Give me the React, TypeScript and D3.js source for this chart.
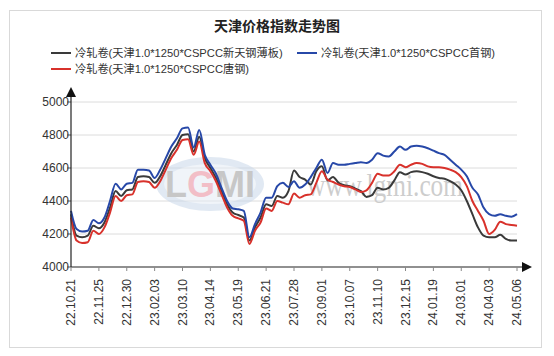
import React from "react";
import * as d3 from "d3";

const title = "天津价格指数走势图";
const seriesNames = [
  "冷轧卷(天津1.0*1250*CSPCC新天钢薄板)",
  "冷轧卷(天津1.0*1250*CSPCC首钢)",
  "冷轧卷(天津1.0*1250*CSPCC唐钢)",
];
const seriesColors = ["#3a3a3a", "#2748a8", "#d8312b"];
const tickLabels = [
  "22.10.21", "22.11.25", "22.12.30", "23.02.03", "23.03.10", "23.04.14",
  "23.05.19", "23.06.21", "23.07.28", "23.09.01", "23.10.07", "23.11.10",
  "23.12.15", "24.01.19", "24.03.01", "24.04.03", "24.05.06",
];
const yTicks = [4000, 4200, 4400, 4600, 4800, 5000];

const xintian = [
  4320, 4190, 4180, 4190, 4250, 4235, 4270, 4360, 4460, 4430,
  4465, 4470, 4545, 4550, 4545, 4510, 4550, 4620, 4690, 4740,
  4800, 4805, 4700, 4790, 4660, 4600, 4540, 4460, 4380, 4330,
  4315, 4300, 4160, 4240, 4300, 4380, 4370, 4430, 4420, 4460,
  4585, 4545, 4530, 4500, 4580, 4610, 4525, 4545, 4510, 4495,
  4490, 4475, 4460, 4425, 4435, 4480, 4470, 4480, 4525, 4575,
  4560, 4575, 4580, 4575, 4565, 4550, 4540, 4535, 4520, 4500,
  4465, 4400, 4320, 4240, 4190, 4180, 4180, 4195, 4170, 4160,
  4160,
];
const shougang = [
  4340, 4230, 4215, 4220, 4285, 4265, 4300, 4400, 4505, 4470,
  4505, 4510, 4590, 4590, 4585, 4540, 4590, 4660, 4730, 4780,
  4840, 4845, 4725, 4830, 4680, 4620, 4565, 4480, 4400, 4355,
  4350, 4340, 4180, 4260, 4330, 4420, 4420, 4490, 4510, 4485,
  4520, 4480, 4500, 4545, 4600, 4650, 4570, 4630, 4620, 4620,
  4625, 4630, 4635, 4630, 4650, 4690, 4675, 4670, 4700, 4730,
  4710, 4730, 4735, 4730, 4720, 4705, 4690, 4680, 4650, 4620,
  4590, 4550, 4480, 4440, 4360, 4320, 4310, 4320, 4310, 4305,
  4320,
];
const tanggang = [
  4300, 4160, 4145, 4150, 4220, 4200, 4240, 4330, 4430, 4400,
  4435, 4440, 4515, 4520, 4515, 4480, 4520, 4590, 4660, 4710,
  4770, 4775, 4680, 4760, 4630, 4580, 4520, 4440, 4360, 4310,
  4295, 4280, 4140, 4220, 4270, 4355, 4340, 4400, 4390, 4380,
  4445, 4420, 4435, 4440, 4510, 4580, 4530, 4515, 4500, 4490,
  4485, 4470, 4455, 4465, 4510, 4565, 4555, 4555, 4580, 4620,
  4605, 4620, 4630, 4625, 4610, 4605, 4605, 4600, 4590, 4575,
  4545, 4490, 4400, 4340, 4280, 4200, 4225, 4275, 4260, 4255,
  4250,
];

const allSeries = [xintian, shougang, tanggang];
const drawOrder = [0, 2, 1];

export default function App() {
  const W = 554, H = 356;
  const left = 71, right = 517, top = 102, bottom = 267;
  const n = xintian.length;
  const x = d3.scaleLinear().domain([0, n - 1]).range([left, right]);
  const y = d3.scaleLinear().domain([4000, 5000]).range([bottom, top]);
  const line = d3.line<number>().x((_, i) => x(i)).y((d) => y(d)).curve(d3.curveMonotoneX);
  const step = (n - 1) / (tickLabels.length - 1);
  const font = "Arial, 'Liberation Sans', 'Noto Sans CJK SC', sans-serif";

  return (
    <svg width={W} height={H} style={{ position: "absolute", left: 0, top: 0 }} fontFamily={font}>
      <rect x={0} y={0} width={W} height={H} fill="#fff" />
      <rect x={9.5} y={10.5} width={532} height={337} fill="#fff" stroke="#d9d9d9" />
      <text x={277} y={31} textAnchor="middle" fontSize={14} fontWeight="bold" fill="#222">{title}</text>

      {/* legend */}
      {[
        { i: 0, lx: 51, ly: 53 },
        { i: 1, lx: 297, ly: 53 },
        { i: 2, lx: 51, ly: 69 },
      ].map(({ i, lx, ly }) => (
        <g key={i}>
          <line x1={lx} x2={lx + 20} y1={ly} y2={ly} stroke={seriesColors[i]} strokeWidth={2} />
          <text x={lx + 24} y={ly + 4} fontSize={11.2} fill="#333">{seriesNames[i]}</text>
        </g>
      ))}

      {/* grid */}
      {yTicks.map((t) => (
        <g key={t}>
          {t > 4000 && <line x1={left} x2={right} y1={y(t)} y2={y(t)} stroke="#dcdcdc" strokeWidth={1} />}
          <line x1={left - 4} x2={left} y1={y(t)} y2={y(t)} stroke="#555" />
          <text x={left - 2} y={y(t) + 4} textAnchor="end" fontSize={12} fill="#333">{t}</text>
        </g>
      ))}

      {/* watermark */}
      <g opacity={0.55}>
        <ellipse cx={210} cy={184} rx={54} ry={27} fill="#c9d8ea" />
        <ellipse cx={210} cy={184} rx={46} ry={20} fill="#e4ecf5" />
        <text x={210} y={197} textAnchor="middle" fontSize={36} fontWeight="bold" fill="#9a9a9a" fontFamily="Arial, sans-serif">
          L<tspan fill="#e88a9a">G</tspan>MI
        </text>
      </g>
      <text x={307} y={196} fontSize={31} fill="#cdcdcd" fontFamily="'Liberation Serif', serif" textLength={156} lengthAdjust="spacingAndGlyphs">www.lgmi.com</text>

      {/* series */}
      {drawOrder.map((si) => (
        <path key={si} d={line(allSeries[si]) || ""} fill="none" stroke={seriesColors[si]} strokeWidth={2} strokeLinejoin="round" />
      ))}

      {/* axes */}
      <line x1={left} x2={left} y1={bottom} y2={94} stroke="#222" strokeWidth={1.2} />
      <path d={`M${left - 5},${97} L${left},${87} L${left + 5},${97} Z`} fill="#111" />
      <line x1={left} x2={524} y1={bottom} y2={bottom} stroke="#222" strokeWidth={1.2} />
      <path d={`M${522},${bottom - 5} L${532},${bottom} L${522},${bottom + 5} Z`} fill="#111" />

      {tickLabels.map((lab, k) => {
        const tx = x(k * step);
        return (
          <g key={lab}>
            <line x1={tx} x2={tx} y1={bottom} y2={bottom + 4} stroke="#888" />
            <text
              transform={`translate(${tx + 4},${279}) rotate(-90)`}
              textAnchor="end"
              fontSize={12}
              fill="#333"
            >
              {lab}
            </text>
          </g>
        );
      })}
    </svg>
  );
}
